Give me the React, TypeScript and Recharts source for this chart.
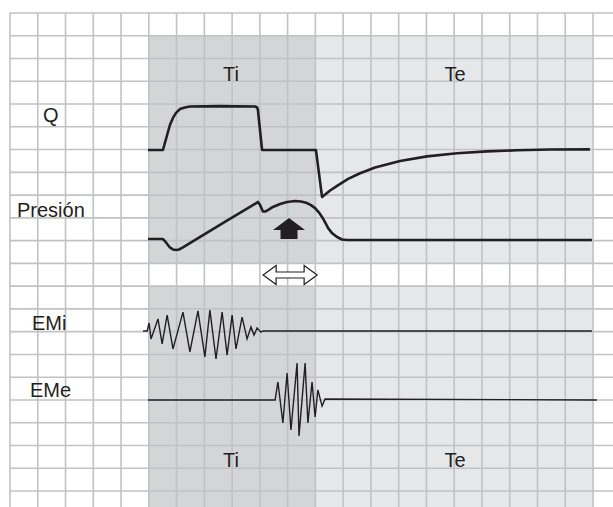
import React from 'react';
import { ComposedChart, Line, XAxis, YAxis, ReferenceArea, ReferenceLine, ReferenceDot } from 'recharts';

// Time axis in grid columns, level axis in grid rows (0 = top line)
const X_MAX = 21.72;
const Y_MAX = 21.703;

// Flow (Q)
const qTime = [4.97, 5.51, 5.58, 5.66, 5.76, 5.87, 5.98, 6.12, 6.3, 6.48, 7.56, 8.83, 8.9, 8.93, 9.08, 11.02, 11.24, 11.53, 11.81, 12.18, 12.61, 13.15, 14.05, 15.02, 16.1, 17.18, 18.26, 19.45, 20.89];
const qLevel = [6.02, 6.02, 5.71, 5.36, 4.92, 4.61, 4.39, 4.22, 4.15, 4.11, 4.09, 4.11, 4.15, 4.26, 6.02, 6.02, 8.08, 7.8, 7.57, 7.29, 7.04, 6.79, 6.5, 6.3, 6.16, 6.08, 6.03, 6.0, 5.99];

// Pressure
const pTime = [4.97, 5.51, 5.58, 5.66, 5.76, 5.87, 5.98, 6.09, 6.23, 6.48, 7.71, 8.9, 8.93, 9.01, 9.11, 9.19, 9.29, 9.47, 9.73, 9.98, 10.27, 10.48, 10.7, 10.84, 10.99, 11.13, 11.24, 11.35, 11.46, 11.6, 11.78, 11.96, 12.14, 20.96];
const pLevel = [9.93, 9.93, 10.02, 10.15, 10.3, 10.39, 10.41, 10.39, 10.3, 10.11, 9.2, 8.33, 8.3, 8.44, 8.72, 8.72, 8.66, 8.52, 8.39, 8.3, 8.26, 8.28, 8.35, 8.44, 8.57, 8.77, 8.96, 9.2, 9.45, 9.67, 9.84, 9.95, 9.97, 9.97];

// Inspiratory EMG
const emiTime = [4.79, 4.94, 5.01, 5.08, 5.33, 5.48, 5.66, 5.87, 6.23, 6.48, 6.77, 7.02, 7.2, 7.42, 7.64, 7.82, 8.0, 8.14, 8.36, 8.54, 8.68, 8.79, 8.9, 9.04, 9.11, 20.96];
const emiLevel = [13.97, 13.97, 13.62, 14.32, 13.44, 14.54, 13.27, 14.76, 13.14, 14.89, 13.09, 15.11, 13.05, 15.2, 13.14, 15.03, 13.27, 14.76, 13.36, 14.32, 13.79, 14.15, 13.84, 14.02, 13.97, 13.97];

// Expiratory EMG
const emeTime = [4.97, 9.55, 9.65, 9.83, 9.98, 10.12, 10.34, 10.41, 10.63, 10.73, 10.88, 10.99, 11.09, 11.24, 11.35, 21.14];
const emeLevel = [17.0, 17.0, 16.21, 18.01, 15.82, 18.32, 15.38, 18.58, 15.38, 18.01, 16.21, 17.75, 16.56, 17.27, 16.96, 17.0];

// Phase bands
const phaseNames = ['Ti', 'Te'];
const phaseStart = [5, 11];
const phaseEnd = [11, 21];
const phaseFill = ['#d4d5d7', '#e6e7e8'];
const bandTop = [1, 12];
const bandBottom = [11, Y_MAX];

// Labels
const labelText = ['Ti', 'Te', 'Q', 'Presión', 'EMi', 'EMe', 'Ti', 'Te'];
const labelTime = [7.96, 16.03, 1.19, 0.25, 0.79, 0.72, 7.96, 16.03];
const labelLevel = [2.99, 2.99, 4.79, 8.96, 13.93, 16.87, 19.95, 19.95];
const labelAnchor = ['middle', 'middle', 'start', 'start', 'start', 'start', 'middle', 'middle'];

const gridCols = Array.from({ length: 22 }, (_, i) => i);
const gridRows = Array.from({ length: 22 }, (_, i) => i);

const zip = (ts: number[], rs: number[]) => ts.map((t, i) => ({ t, r: rs[i] }));
const qData = zip(qTime, qLevel);
const pData = zip(pTime, pLevel);
const emiData = zip(emiTime, emiLevel);
const emeData = zip(emeTime, emeLevel);

const INK = '#231f20';
const GRID = '#c1c2c4';

const UpArrow = (p: any) => {
  const { cx, cy } = p;
  return (
    <polygon
      points={`${cx},${cy - 11} ${cx + 16},${cy + 1} ${cx + 8.5},${cy + 1} ${cx + 8.5},${cy + 10} ${cx - 8.5},${cy + 10} ${cx - 8.5},${cy + 1} ${cx - 16},${cy + 1}`}
      fill={INK}
    />
  );
};

const DoubleArrow = (p: any) => {
  const { cx, cy } = p;
  const L = 27, h = 13, hh = 9.5, s = 3;
  const pts = [
    [cx - L, cy], [cx - L + h, cy - hh], [cx - L + h, cy - s], [cx + L - h, cy - s], [cx + L - h, cy - hh],
    [cx + L, cy], [cx + L - h, cy + hh], [cx + L - h, cy + s], [cx - L + h, cy + s], [cx - L + h, cy + hh],
  ].map((q) => q.join(',')).join(' ');
  return <polygon points={pts} fill="#ffffff" stroke={INK} strokeWidth={1.2} strokeLinejoin="miter" />;
};

export default function App() {
  return (
    <div style={{ position: 'absolute', left: 0, top: 0, width: 613, height: 507, background: '#fff' }}>
      <ComposedChart width={613} height={507} margin={{ top: 13, right: 0, left: 10, bottom: 0 }}>
        <XAxis type="number" dataKey="t" domain={[0, X_MAX]} hide allowDataOverflow />
        <YAxis type="number" dataKey="r" domain={[0, Y_MAX]} reversed hide allowDataOverflow />
        {phaseNames.map((n, i) =>
          bandTop.map((top, j) => (
            <ReferenceArea
              key={`${n}-${j}`}
              x1={phaseStart[i]}
              x2={phaseEnd[i]}
              y1={top}
              y2={bandBottom[j]}
              fill={phaseFill[i]}
              fillOpacity={1}
              stroke="none"
              ifOverflow="visible"
            />
          ))
        )}
        {gridCols.map((c) => (
          <ReferenceLine key={`c${c}`} x={c} stroke={GRID} strokeWidth={1.6} ifOverflow="visible" />
        ))}
        {gridRows.map((r) => (
          <ReferenceLine key={`r${r}`} y={r} stroke={GRID} strokeWidth={1.6} ifOverflow="visible" />
        ))}
        <Line data={qData} dataKey="r" type="linear" stroke={INK} strokeWidth={2.6} strokeLinejoin="round" dot={false} isAnimationActive={false} />
        <Line data={pData} dataKey="r" type="linear" stroke={INK} strokeWidth={2.6} strokeLinejoin="round" dot={false} isAnimationActive={false} />
        <Line data={emiData} dataKey="r" type="linear" stroke={INK} strokeWidth={1.4} dot={false} isAnimationActive={false} />
        <Line data={emeData} dataKey="r" type="linear" stroke={INK} strokeWidth={1.4} dot={false} isAnimationActive={false} />
        <ReferenceDot x={10.05} y={9.49} r={0} shape={UpArrow} ifOverflow="visible" />
        <ReferenceDot x={10.09} y={11.51} r={0} shape={DoubleArrow} ifOverflow="visible" />
        {labelText.map((txt, i) => (
          <ReferenceDot
            key={`l${i}`}
            x={labelTime[i]}
            y={labelLevel[i]}
            r={0}
            ifOverflow="visible"
            shape={(p: any) => (
              <text
                x={p.cx}
                y={p.cy}
                textAnchor={labelAnchor[i] as any}
                fontFamily="'Liberation Sans', Arial, sans-serif"
                fontSize={20}
                fill={INK}
              >
                {txt}
              </text>
            )}
          />
        ))}
      </ComposedChart>
    </div>
  );
}
